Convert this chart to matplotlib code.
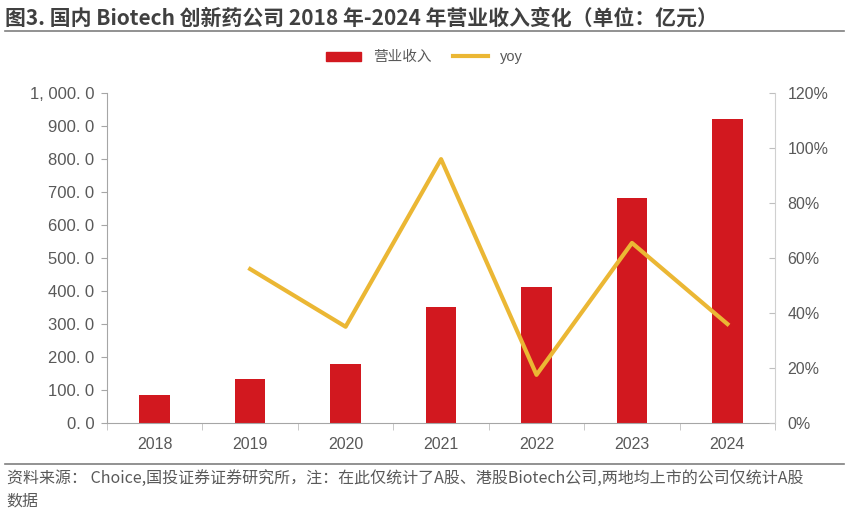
import numpy as np
import matplotlib
matplotlib.use('Agg')
import matplotlib.pyplot as plt
from matplotlib.ticker import FuncFormatter
from matplotlib.lines import Line2D

plt.rcParams['font.family'] = ['Liberation Sans', 'Noto Sans CJK SC', 'DejaVu Sans']

years = ['2018', '2019', '2020', '2021', '2022', '2023', '2024']
revenue = [85, 133, 180, 351, 411, 681, 923]
yoy = [None, 0.56, 0.35, 0.96, 0.175, 0.655, 0.36]

red = '#D2181F'
yellow = '#EBB734'
grey = '#595959'

fig = plt.figure(figsize=(8.49, 5.12), dpi=100)
ax = fig.add_axes([0.126, 0.174, 0.787, 0.644])
x = np.arange(len(years))
ax.bar(x, revenue, width=0.32, color=red, zorder=2)
ax.set_xlim(-0.5, len(years) - 0.5)
ax.set_ylim(0, 1000)
ax.set_yticks(np.arange(0, 1001, 100))
ax.yaxis.set_major_formatter(FuncFormatter(
    lambda v, p: f'{v:,.1f}'.replace(',', ', ').replace('.', '. ')))
ax.set_xticks(x)
ax.set_xticklabels(years)
ax.set_xticks(np.arange(-0.5, len(years), 1), minor=True)
ax.tick_params(axis='x', which='major', length=0, pad=10, labelsize=11.5, labelcolor=grey)
ax.tick_params(axis='x', which='minor', length=5, color='#BFBFBF', direction='out')
ax.tick_params(axis='y', length=4, color='#A6A6A6', labelsize=12, labelcolor=grey, pad=5)
for s in ['top', 'right']:
    ax.spines[s].set_visible(False)
ax.spines['left'].set_color('#A6A6A6')
ax.spines['bottom'].set_color('#A6A6A6')

ax2 = ax.twinx()
yx = [i for i, v in enumerate(yoy) if v is not None]
yv = [v for v in yoy if v is not None]
ax2.plot(yx, yv, color=yellow, lw=3, zorder=3)
ax2.set_ylim(0, 1.2)
ax2.set_yticks(np.arange(0, 1.21, 0.2))
ax2.yaxis.set_major_formatter(FuncFormatter(lambda v, p: f'{v * 100:.0f}%'))
ax2.tick_params(axis='y', length=4, direction='in', color='#BFBFBF', labelsize=11.5, labelcolor=grey, pad=9)
for s in ['top', 'left', 'bottom']:
    ax2.spines[s].set_visible(False)
ax2.spines['right'].set_color('#D0D0D0')

handles = [plt.Rectangle((0, 0), 1, 1, color=red),
           Line2D([0], [0], color=yellow, lw=3)]
fig.legend(handles, ['营业收入', 'yoy'], loc='center', bbox_to_anchor=(0.5, 0.888),
           ncol=2, frameon=False, fontsize=10.5, handlelength=2.4, handleheight=0.6,
           columnspacing=1.5, labelcolor=grey)

fig.text(0.006, 0.965, '图3. 国内 Biotech 创新药公司 2018 年-2024 年营业收入变化（单位：亿元）',
         fontsize=15, fontweight='bold', color='#404040', va='center',
         family=['Noto Sans CJK SC', 'DejaVu Sans'])
fig.add_artist(Line2D([0.006, 0.994], [0.94, 0.94], color='#7F7F7F', lw=1.2))
fig.add_artist(Line2D([0.006, 0.994], [0.093, 0.093], color='#7F7F7F', lw=1.2))
foot = ['Noto Sans CJK SC', 'DejaVu Sans']
fig.text(0.008, 0.066, '资料来源： Choice,国投证券证券研究所，注：在此仅统计了A股、港股Biotech公司,两地均上市的公司仅统计A股',
         fontsize=11.5, color=grey, va='center', family=foot)
fig.text(0.008, 0.022, '数据', fontsize=11.5, color=grey, va='center', family=foot)

fig.savefig('out.png', dpi=100)
